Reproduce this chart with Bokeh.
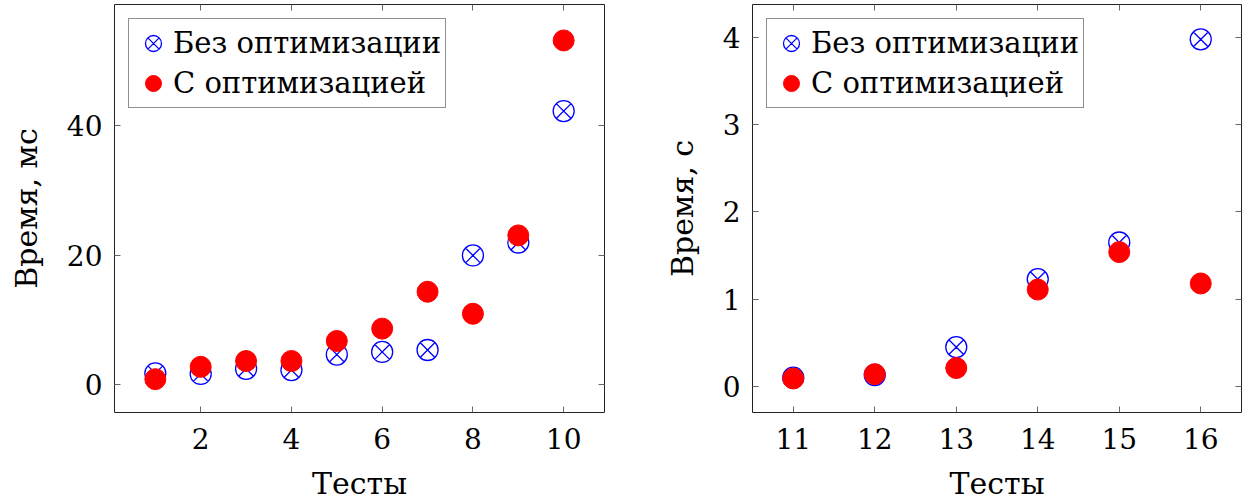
from bokeh.plotting import figure
from bokeh.models import Range1d, LinearAxis, FixedTicker, Legend, LegendItem
from bokeh.layouts import row
from bokeh.embed import file_html
from bokeh.resources import INLINE

FONT = "DejaVu Serif"

# ---- data ----
tests_ms = [1, 2, 3, 4, 5, 6, 7, 8, 9, 10]
no_opt_ms = [1.8, 1.7, 2.5, 2.3, 4.7, 5.1, 5.4, 20.0, 22.0, 42.3]
opt_ms = [0.9, 2.8, 3.7, 3.7, 6.8, 8.7, 14.4, 11.0, 23.1, 53.2]

tests_s = [11, 12, 13, 14, 15, 16]
no_opt_s = [0.10, 0.13, 0.45, 1.23, 1.65, 3.98]
opt_s = [0.09, 0.14, 0.21, 1.11, 1.54, 1.18]

xticks_ms = [2, 4, 6, 8, 10]
yticks_ms = [0, 20, 40]
xticks_s = [11, 12, 13, 14, 15, 16]
yticks_s = [0, 1, 2, 3, 4]

label_no_opt = "Без оптимизации"
label_opt = "С оптимизацией"
xlabel = "Тесты"
ylabel_ms = "Время, мс"
ylabel_s = "Время, с"


def style_axis(ax, ticks, standoff):
    ax.ticker = FixedTicker(ticks=ticks)
    ax.axis_line_color = None
    ax.major_tick_in = 6
    ax.major_tick_out = 0
    ax.major_tick_line_color = "#666666"
    ax.major_tick_line_width = 1
    ax.minor_tick_line_color = None
    ax.major_label_text_font = FONT
    ax.major_label_text_font_size = "28px"
    ax.major_label_text_color = "black"
    ax.major_label_standoff = standoff
    ax.axis_label_text_font = FONT
    ax.axis_label_text_font_size = "30px"
    ax.axis_label_text_font_style = "normal"
    ax.axis_label_text_color = "black"


def mirror_axis(ticks):
    ax = LinearAxis(ticker=FixedTicker(ticks=ticks))
    ax.axis_line_color = None
    ax.major_tick_in = 6
    ax.major_tick_out = 0
    ax.major_tick_line_color = "#666666"
    ax.minor_tick_line_color = None
    ax.major_label_text_color = None
    ax.major_label_text_font_size = "1px"
    ax.major_label_standoff = 0
    return ax


def make_fig(x, y_no, y_opt, xr, yr, xt, yt, ylabel, bl, fw, br):
    p = figure(
        frame_width=fw, frame_height=408,
        x_range=Range1d(*xr), y_range=Range1d(*yr),
        output_backend="svg", toolbar_location=None,
        min_border_left=bl, min_border_right=br,
        min_border_top=4, min_border_bottom=10,
    )
    p.xgrid.visible = False
    p.ygrid.visible = False
    p.outline_line_color = "#222222"
    p.outline_line_width = 1
    p.background_fill_color = "white"
    p.border_fill_color = "white"

    style_axis(p.xaxis[0], xt, 15)
    style_axis(p.yaxis[0], yt, 12)
    p.xaxis[0].axis_label = xlabel
    p.xaxis[0].axis_label_standoff = 14
    p.yaxis[0].axis_label = ylabel
    p.yaxis[0].axis_label_standoff = 20

    p.add_layout(mirror_axis(yt), "right")
    p.add_layout(mirror_axis(xt), "above")

    r1 = p.scatter(x, y_no, marker="circle_x", size=21, fill_color=None,
                   line_color="#0000ff", line_width=1.3)
    r2 = p.scatter(x, y_opt, marker="circle", size=21, fill_color="#ff0000",
                   line_color="#ff0000", line_width=1)

    legend = Legend(
        items=[LegendItem(label=label_no_opt, renderers=[r1]),
               LegendItem(label=label_opt, renderers=[r2])],
        location="top_left", margin=14, padding=4,
        glyph_width=40, glyph_height=40, label_standoff=0, spacing=0,
        label_text_font=FONT, label_text_font_size="29px",
        label_text_color="black",
        border_line_color="#222222", border_line_width=1,
        background_fill_color="white", background_fill_alpha=1.0,
    )
    p.add_layout(legend)
    return p


p1 = make_fig(tests_ms, no_opt_ms, opt_ms, (0.1, 10.9), (-4.25, 58.75),
              xticks_ms, yticks_ms, ylabel_ms, 114, 490, 20)
p2 = make_fig(tests_s, no_opt_s, opt_s, (10.5, 16.5), (-0.30, 4.38),
              xticks_s, yticks_s, ylabel_s, 128, 489, 3)

layout = row(p1, p2)
open("out.html", "w").write(file_html(layout, INLINE))
